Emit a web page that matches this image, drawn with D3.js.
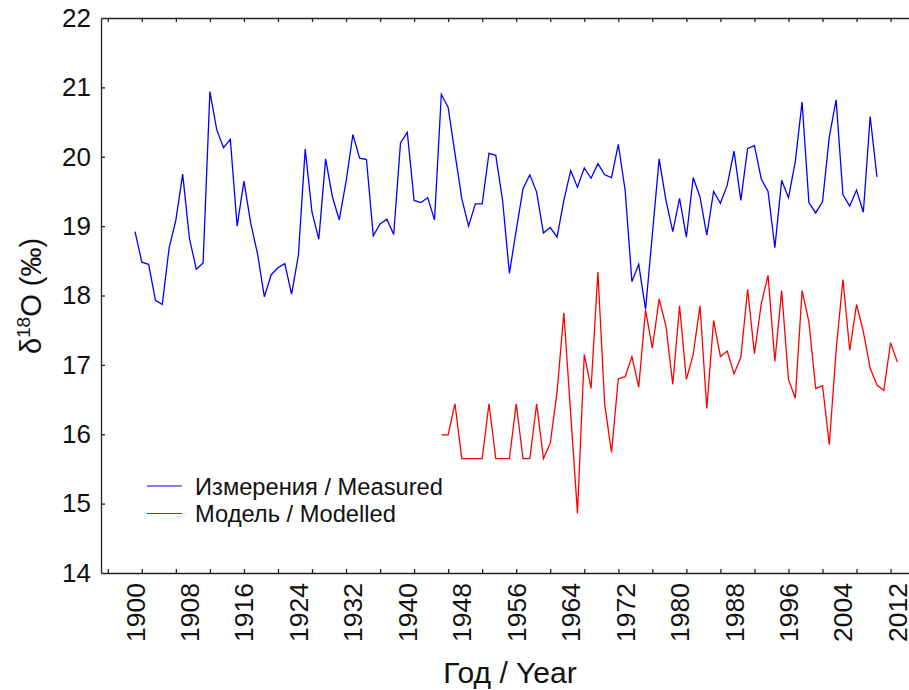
<!DOCTYPE html>
<html lang="ru">
<head>
<meta charset="UTF-8">
<title>d18O measured vs modelled</title>
<script src="https://d3js.org/d3.v7.min.js"></script>
<style>
    body { margin: 0; background: #fff; }
    svg { display: block; font-family: "Liberation Sans", Arial, sans-serif; }
    .domain { stroke: #222; stroke-width: 1.3px; }
    .tick line { stroke: #222; stroke-width: 1.3px; }
</style>
</head>
<body>
<svg id="chart" width="909" height="690"></svg>
<script>
    // measured series starts 1900, modelled series starts 1945 (one value per year)
    var measuredStart = 1900;
    var measured = [
        18.92, 18.48, 18.45, 17.93, 17.87, 18.68, 19.09, 19.75, 18.82, 18.38,
        18.47, 20.94, 20.39, 20.13, 20.25, 19.00, 19.65, 19.04, 18.60, 17.98,
        18.30, 18.40, 18.46, 18.02, 18.58, 20.11, 19.20, 18.81, 19.97, 19.42,
        19.09, 19.64, 20.32, 19.98, 19.96, 18.86, 19.03, 19.10, 18.88, 20.20,
        20.35, 19.37, 19.34, 19.41, 19.09, 20.90, 20.71, 20.05, 19.40, 19.00,
        19.32, 19.32, 20.05, 20.02, 19.37, 18.32, 18.94, 19.54, 19.74, 19.49,
        18.90, 18.98, 18.84, 19.37, 19.80, 19.56, 19.84, 19.69, 19.90, 19.74,
        19.70, 20.18, 19.52, 18.20, 18.45, 17.80, 18.88, 19.97, 19.37, 18.92,
        19.40, 18.84, 19.70, 19.42, 18.87, 19.50, 19.33, 19.59, 20.08, 19.37,
        20.12, 20.16, 19.68, 19.50, 18.69, 19.66, 19.41, 19.93, 20.79, 19.34,
        19.19, 19.35, 20.29, 20.82, 19.45, 19.29, 19.52, 19.20, 20.58, 19.71
    ];

    var modelledStart = 1945;
    var modelled = [
        15.99, 15.99, 16.44, 15.65, 15.65, 15.65, 15.65, 16.44, 15.65, 15.65,
        15.65, 16.44, 15.65, 15.65, 16.44, 15.65, 15.87, 16.61, 17.75, 16.30,
        14.86, 17.15, 16.66, 18.34, 16.43, 15.74, 16.80, 16.83, 17.12, 16.68,
        17.79, 17.24, 17.95, 17.56, 16.72, 17.85, 16.79, 17.15, 17.85, 16.37,
        17.64, 17.12, 17.20, 16.87, 17.11, 18.09, 17.16, 17.88, 18.29, 17.05,
        18.07, 16.79, 16.52, 18.07, 17.62, 16.66, 16.70, 15.85, 17.21, 18.23,
        17.21, 17.87, 17.48, 16.95, 16.71, 16.63, 17.32, 17.04
    ];

    var xLabelYears = [1900, 1908, 1916, 1924, 1932, 1940, 1948, 1956, 1964, 1972, 1980, 1988, 1996, 2004, 2012];
    var xTickYears = [1896, 1901, 1906, 1911, 1916, 1921, 1926, 1931, 1936, 1941, 1946, 1951, 1956,
        1961, 1966, 1971, 1976, 1981, 1986, 1991, 1996, 2001, 2006, 2011];
    var yTicks = [14, 15, 16, 17, 18, 19, 20, 21, 22];

    var legendLabels = ["Измерения / Measured", "Модель / Modelled"];
    var seriesColors = ["#0000ff", "#ff0000"];

    var svg = d3.select("#chart");

    var x = d3.scaleLinear().domain([1895, 2014]).range([101, 911]);
    var y = d3.scaleLinear().domain([14, 22]).range([573, 18]);

    // frame: left, bottom and top axes (no right side)
    svg.append("g")
        .attr("transform", "translate(0,573)")
        .call(d3.axisBottom(x).tickValues(xTickYears).tickSize(-4).tickSizeOuter(0).tickFormat(""));

    svg.append("g")
        .attr("transform", "translate(0,18)")
        .call(d3.axisTop(x).tickValues(xTickYears).tickSize(-4).tickSizeOuter(0).tickFormat(""));

    var yAxis = svg.append("g")
        .attr("transform", "translate(101,0)")
        .call(d3.axisLeft(y).tickValues(yTicks).tickSize(-4).tickSizeOuter(0).tickPadding(10));
    yAxis.selectAll(".tick text")
        .attr("font-size", 26)
        .attr("fill", "#111")
        .attr("font-family", "Liberation Sans, Arial, sans-serif");
    yAxis.selectAll(".tick").filter(function (d) { return d === 14 || d === 22; }).select("line").remove();

    // rotated year labels
    svg.append("g").selectAll("text")
        .data(xLabelYears)
        .enter().append("text")
        .attr("transform", function (d) { return "translate(" + x(d) + ",583) rotate(-90)"; })
        .attr("text-anchor", "end")
        .attr("dy", "0.36em")
        .attr("font-size", 26.5)
        .attr("fill", "#111")
        .text(function (d) { return d; });

    var line = d3.line()
        .x(function (d) { return x(d[0]); })
        .y(function (d) { return y(d[1]); });

    var measuredPts = measured.map(function (v, i) { return [measuredStart + i, v]; });
    var modelledPts = modelled.map(function (v, i) { return [modelledStart + i, v]; });

    svg.append("path")
        .datum(measuredPts)
        .attr("d", line)
        .attr("fill", "none")
        .attr("stroke", seriesColors[0])
        .attr("stroke-width", 1.3);

    svg.append("path")
        .datum(modelledPts)
        .attr("d", line)
        .attr("fill", "none")
        .attr("stroke", seriesColors[1])
        .attr("stroke-width", 1.3);

    // legend
    var legend = svg.append("g").attr("transform", "translate(147,486)");
    legendLabels.forEach(function (label, i) {
        var row = legend.append("g").attr("transform", "translate(0," + (i * 27.5) + ")");
        row.append("line")
            .attr("x1", 0).attr("x2", 35)
            .attr("stroke", seriesColors[i])
            .attr("stroke-width", 1);
        row.append("text")
            .attr("x", 48)
            .attr("dy", "0.36em")
            .attr("font-size", 23.7)
            .attr("fill", "#111")
            .text(label);
    });

    // axis titles
    var yTitle = svg.append("text")
        .attr("transform", "translate(41,296) rotate(-90)")
        .attr("text-anchor", "middle")
        .attr("font-size", 29)
        .attr("fill", "#111");
    yTitle.append("tspan").text("δ");
    yTitle.append("tspan").attr("font-size", 19).attr("dy", -11).text("18");
    yTitle.append("tspan").attr("dy", 11).text("O (‰)");

    svg.append("text")
        .attr("x", 510)
        .attr("y", 683)
        .attr("text-anchor", "middle")
        .attr("font-size", 30)
        .attr("fill", "#111")
        .text("Год / Year");
</script>
</body>
</html>
